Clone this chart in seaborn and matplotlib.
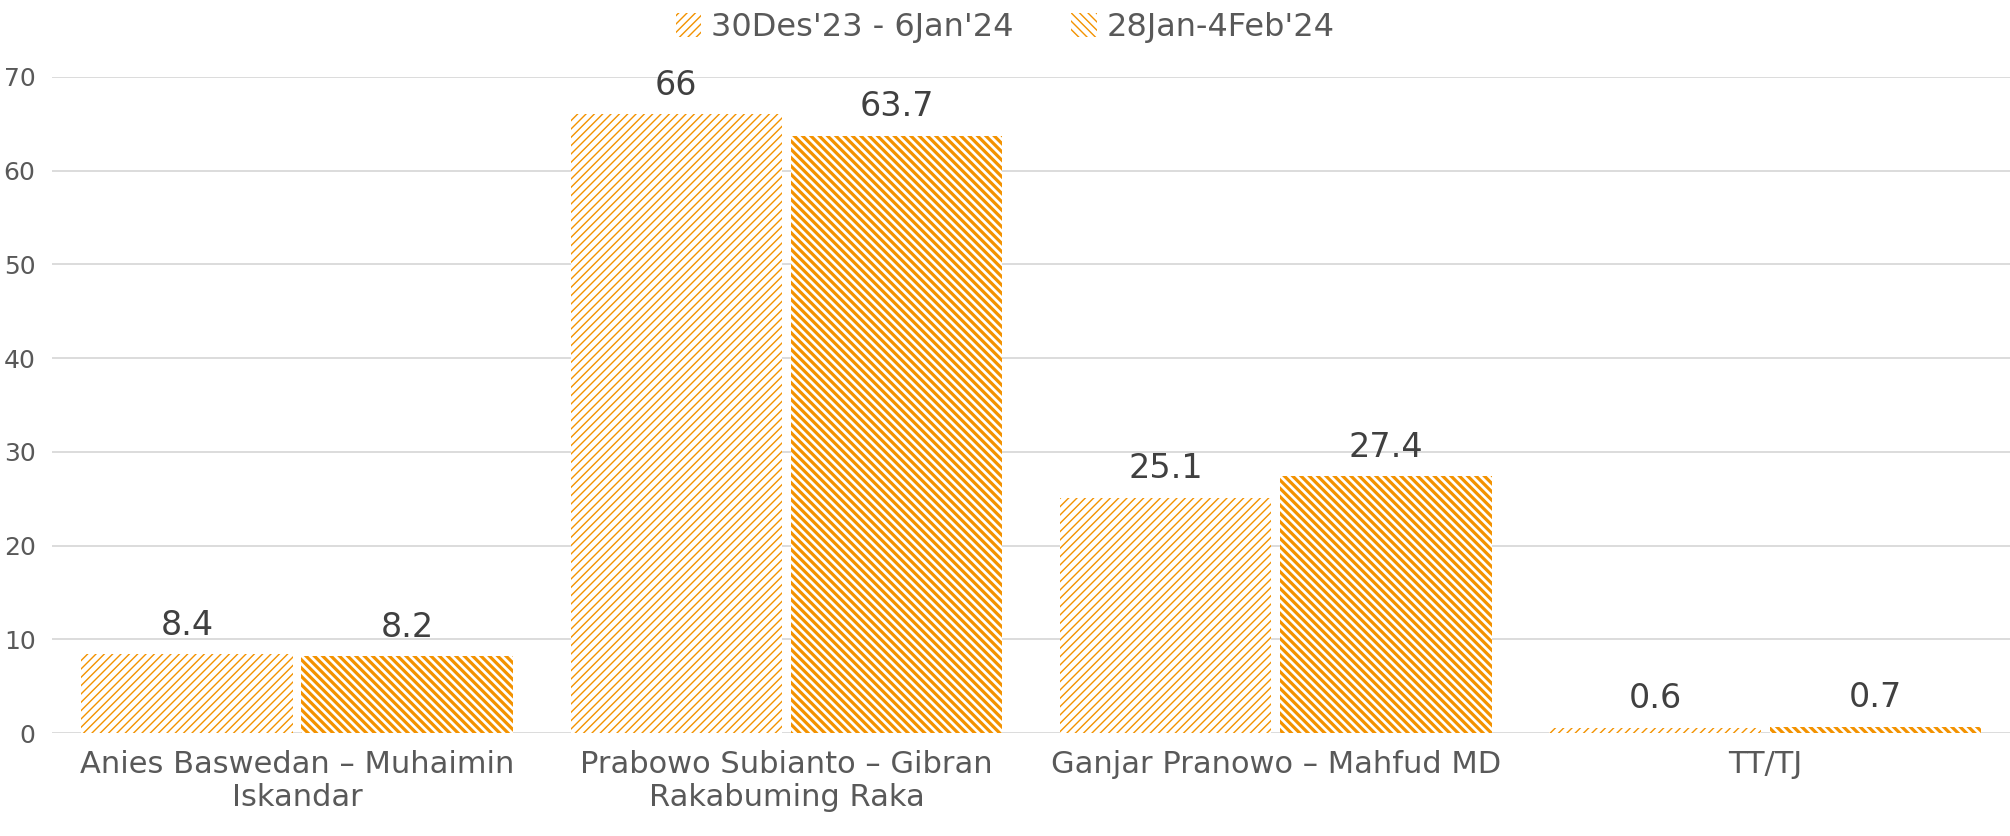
import numpy as np
import pandas as pd
import matplotlib
matplotlib.use("Agg")
import matplotlib.pyplot as plt
import seaborn as sns
from matplotlib.patches import Patch

candidates = ["Anies Baswedan – Muhaimin\nIskandar",
              "Prabowo Subianto – Gibran\nRakabuming Raka",
              "Ganjar Pranowo – Mahfud MD",
              "TT/TJ"]
periods = ["30Des'23 - 6Jan'24", "28Jan-4Feb'24"]
wave1 = [8.4, 66, 25.1, 0.6]
wave2 = [8.2, 63.7, 27.4, 0.7]

df = pd.DataFrame({
    "candidate": candidates * 2,
    "period": [periods[0]] * 4 + [periods[1]] * 4,
    "value": wave1 + wave2,
})

sns.set_style("white")
plt.rcParams["font.family"] = ["DejaVu Sans"]
plt.rcParams["hatch.linewidth"] = 1.0

orange = "#F39200"
grey = "#595959"

fig = plt.figure(figsize=(20.1, 8.36), dpi=100)
ax = fig.add_axes([0.026, 0.123, 0.974, 0.785])

sns.barplot(data=df, x="candidate", y="value", hue="period",
            palette=["white", "white"], width=0.9, gap=0.04,
            edgecolor=orange, linewidth=0, ax=ax, legend=False)

# dense thin hatch for the first wave, thicker stripes for the second
hatches = ["////", "\\\\\\\\"]
hlw = [1.0, 2.3]
for i, cont in enumerate(ax.containers):
    for bar in cont:
        bar.set_hatch(hatches[i])
        bar.set_edgecolor(orange)
        if hasattr(bar, "set_hatch_linewidth"):
            bar.set_hatch_linewidth(hlw[i])
    ax.bar_label(cont, labels=[f"{v:g}" for v in cont.datavalues],
                 padding=9, fontsize=24, color="#404040")

ax.set_ylim(0, 70)
ax.set_yticks(range(0, 71, 10))
ax.set_xlim(-0.5, 3.5)
ax.set_xlabel("")
ax.set_ylabel("")
ax.grid(axis="y", color="#D9D9D9", linewidth=1.3)
ax.set_axisbelow(True)
for s in ax.spines.values():
    s.set_visible(False)
ax.tick_params(axis="y", labelsize=18, labelcolor=grey, length=0, pad=12)
ax.tick_params(axis="x", labelsize=22, labelcolor=grey, length=0, pad=12)

handles = []
for i in range(2):
    p = Patch(facecolor="white", edgecolor=orange, hatch=hatches[i], linewidth=0)
    if hasattr(p, "set_hatch_linewidth"):
        p.set_hatch_linewidth(hlw[i])
    handles.append(p)
leg = fig.legend(handles, periods, loc="upper center", bbox_to_anchor=(0.5, 1.02),
                 ncol=2, frameon=False, fontsize=23, handlelength=0.8, handleheight=0.8,
                 handletextpad=0.3, columnspacing=1.8)
for t in leg.get_texts():
    t.set_color(grey)

fig.savefig("out.png", dpi=100)
